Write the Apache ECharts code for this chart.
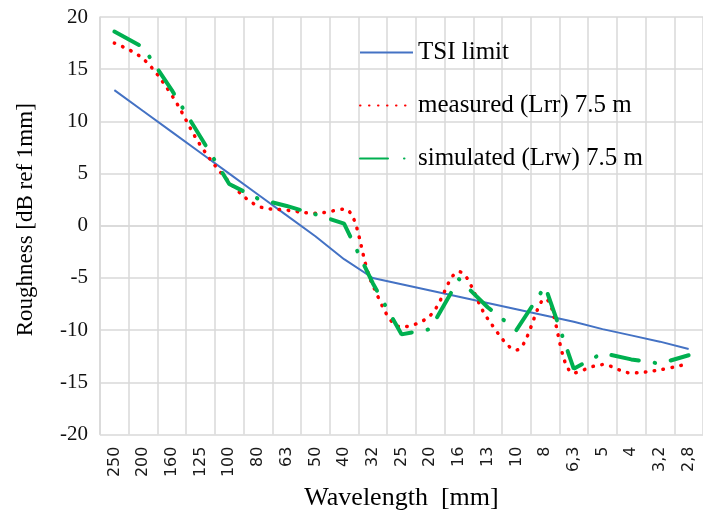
<!DOCTYPE html>
<html>
<head>
<meta charset="utf-8">
<script src="https://cdn.jsdelivr.net/npm/echarts/dist/echarts.min.js"></script>
<style>
  html, body { margin: 0; padding: 0; background: #fff; }
  #chart { width: 703px; height: 516px; }
</style>
</head>
<body>
<div id="chart"></div>
<script>
// wavelength bands (mm), written as on the original axis
const wavelengths = ['250', '200', '160', '125', '100', '80', '63', '50', '40', '32', '25',
  '20', '16', '13', '10', '8', '6,3', '5', '4', '3,2', '2,8'];

// roughness levels, dB ref 1 um
const tsiLimit = [13, 11, 9, 7, 5, 3, 1, -1, -3.2, -5, -5.6,
  -6.2, -6.8, -7.4, -8, -8.6, -9.2, -9.9, -10.5, -11.1, -11.8];
const measured = [17.5, 16.0, 12.5, 7.7, 4.2, 1.9, 1.5, 1.2, 1.6, -5.7, -9.7,
  -8.6, -4.4, -8.9, -11.9, -7.0, -14.1, -13.3, -14.1, -13.8, -13.2];
const simulated = [18.6, 17.1, 13.0, 8.5, 4.0, 2.6, 1.9, 1.1, 0.2, -5.5, -10.4,
  -9.9, -5.1, -7.8, -10.0, -5.8, -13.7, -12.2, -12.8, -13.2, -12.4];

const serif = 'Liberation Serif';
const gridColor = '#d9d9d9';

const chart = echarts.init(document.getElementById('chart'));

chart.setOption({
  animation: false,
  grid: { left: 100, top: 17, width: 607, height: 422 },
  legend: {
    orient: 'vertical',
    left: 354,
    top: 35,
    itemWidth: 53,
    itemHeight: 14,
    itemGap: 28,
    // hide the marker dot, keep only the line sample
    itemStyle: { opacity: 0 },
    textStyle: { fontFamily: serif, fontSize: 25, color: '#000' },
    data: ['TSI limit', 'measured (Lrr) 7.5 m', 'simulated (Lrw) 7.5 m']
  },
  xAxis: {
    type: 'category',
    data: wavelengths,
    name: 'Wavelength  [mm]',
    nameLocation: 'middle',
    nameGap: 43,
    nameTextStyle: { fontFamily: serif, fontSize: 26, color: '#000' },
    axisLine: { lineStyle: { color: gridColor, width: 1.5 } },
    axisTick: { show: false },
    axisLabel: {
      rotate: 90,
      margin: 12,
      interval: 0,
      fontFamily: 'DejaVu Sans',
      fontSize: 16,
      color: '#1a1a1a'
    },
    splitLine: { show: true, interval: 0, lineStyle: { color: gridColor, width: 1.5 } }
  },
  yAxis: {
    type: 'value',
    min: -20,
    max: 20,
    interval: 5,
    name: 'Roughness [dB ref 1mm]',
    nameLocation: 'middle',
    nameGap: 63,
    nameTextStyle: { fontFamily: serif, fontSize: 23, color: '#000', padding: [0, 0, 0, 12] },
    axisLine: { show: true, lineStyle: { color: gridColor, width: 1.5 } },
    axisTick: { show: false },
    axisLabel: { margin: 12, fontFamily: serif, fontSize: 21, color: '#111' },
    splitLine: { lineStyle: { color: gridColor, width: 1.5 } }
  },
  series: [
    {
      name: 'TSI limit',
      type: 'line',
      data: tsiLimit,
      symbol: 'none',
      color: '#4472c4',
      lineStyle: { color: '#4472c4', width: 2 }
    },
    {
      name: 'measured (Lrr) 7.5 m',
      type: 'line',
      data: measured,
      symbol: 'none',
      smooth: 0.35,
      color: '#ff0000',
      lineStyle: { color: '#ff0000', width: 3.5, type: [0.5, 8.5], cap: 'round' }
    },
    {
      name: 'simulated (Lrw) 7.5 m',
      type: 'line',
      data: simulated,
      symbol: 'none',
      color: '#00b050',
      lineStyle: { color: '#00b050', width: 4, type: [28, 16, 0.5, 16], cap: 'round' }
    }
  ]
});
</script>
</body>
</html>
